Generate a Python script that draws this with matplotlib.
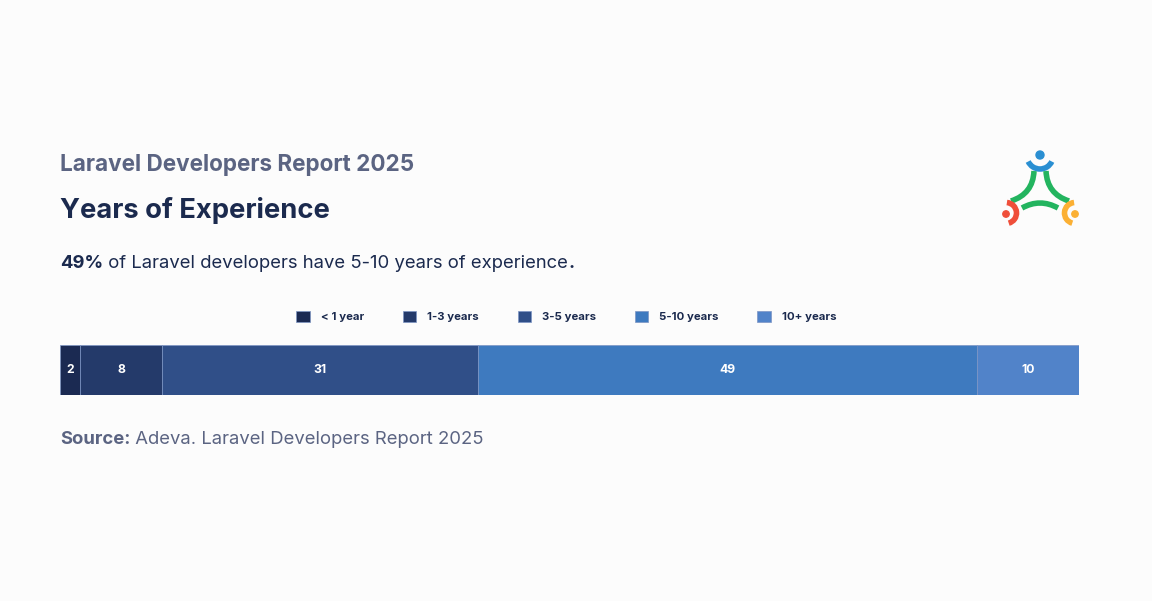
import matplotlib.pyplot as plt
import matplotlib.patches as mpatches
from matplotlib.path import Path

plt.rcParams['font.family'] = ['Inter', 'DejaVu Sans']

# data
categories = ["< 1 year", "1-3 years", "3-5 years", "5-10 years", "10+ years"]
values = [2, 8, 31, 49, 10]
colors = ["#1b2a52", "#243a6a", "#304f88", "#3e7abf", "#5183c9"]

W, H = 1152, 601
fig = plt.figure(figsize=(W / 100, H / 100), dpi=100)
fig.patch.set_facecolor("#fcfcfc")

def fx(px):
    return px / W

def fy(py):
    return 1 - py / H

navy = "#1b2a4e"
grey = "#5b6482"

# stacked bar
ax = fig.add_axes([fx(60), fy(395), fx(1079) - fx(60), (395 - 345) / H])
left = 0
for cat, v, c in zip(categories, values, colors):
    ax.barh(0, v, left=left, height=1, color=c, edgecolor="#7d95c4", linewidth=0.5, label=cat)
    ax.text(left + v / 2, 0, str(v), ha="center", va="center", color="white",
            fontsize=8.8, fontweight="bold")
    left += v
ax.set_xlim(0, sum(values))
ax.set_ylim(-0.5, 0.5)
ax.axis("off")

leg = ax.legend(loc="lower center", bbox_to_anchor=(0.497, 1.25), ncol=5, frameon=False,
                handlelength=1.15, handleheight=1.15, handletextpad=1.0, columnspacing=3.4,
                prop={"weight": "bold", "size": 8.2})
for txt in leg.get_texts():
    txt.set_color(navy)

# header texts
fig.text(fx(60), fy(165), "Laravel Developers Report 2025", fontsize=16.2, fontweight="bold",
         color=grey, va="center")
fig.text(fx(60), fy(210), "Years of Experience", fontsize=19.7, fontweight="bold",
         color=navy, va="center")
t = fig.text(fx(60), fy(263), "49%", fontsize=13.3, fontweight="bold", color=navy, va="center")
p2 = ax.annotate(" of Laravel developers have 5-10 years of experience", xy=(1, 0),
                 xycoords=t, va="bottom", ha="left", fontsize=13.3, color=navy,
                 annotation_clip=False)
ax.annotate(".", xy=(1, 0), xycoords=p2, va="bottom", ha="left", fontsize=13.3,
            fontweight="bold", color=navy, annotation_clip=False)
s = fig.text(fx(60), fy(440), "Source:", fontsize=13.3, fontweight="bold", color=grey, va="center")
ax.annotate(" Adeva. Laravel Developers Report 2025", xy=(1, 0), xycoords=s, va="bottom",
            ha="left", fontsize=13.3, color=grey, annotation_clip=False)

# logo
lax = fig.add_axes([fx(995), fy(232), fx(90), (232 - 145) / H])
lax.set_xlim(995, 1085)
lax.set_ylim(601 - 232, 601 - 145)
lax.set_aspect("equal")
lax.axis("off")

def Y(py):
    return 601 - py

blue, green, red, orange = "#2a8fd2", "#23b45f", "#ef4f3a", "#fbb034"
lax.add_patch(mpatches.Circle((1040, Y(155)), 4, color=blue))
lax.add_patch(mpatches.Arc((1040, Y(156)), 26, 26, theta1=205, theta2=335, color=blue, lw=4))
for pts in [[(1034, Y(171)), (1033, Y(194)), (1011, Y(201))],
            [(1022, Y(208)), (1040, Y(198)), (1058, Y(208))],
            [(1046, Y(171)), (1047, Y(194)), (1069, Y(201))]]:
    p = Path(pts, [Path.MOVETO, Path.CURVE3, Path.CURVE3])
    lax.add_patch(mpatches.PathPatch(p, fill=False, color=green, lw=4, capstyle="butt"))
lax.add_patch(mpatches.Circle((1006, Y(214)), 3.2, color=red))
lax.add_patch(mpatches.Arc((1006, Y(213)), 21, 21, theta1=-75, theta2=85, color=red, lw=4))
lax.add_patch(mpatches.Circle((1075, Y(214)), 3.2, color=orange))
lax.add_patch(mpatches.Arc((1075, Y(213)), 21, 21, theta1=95, theta2=255, color=orange, lw=4))

fig.savefig("out.png", dpi=100, facecolor=fig.get_facecolor())
